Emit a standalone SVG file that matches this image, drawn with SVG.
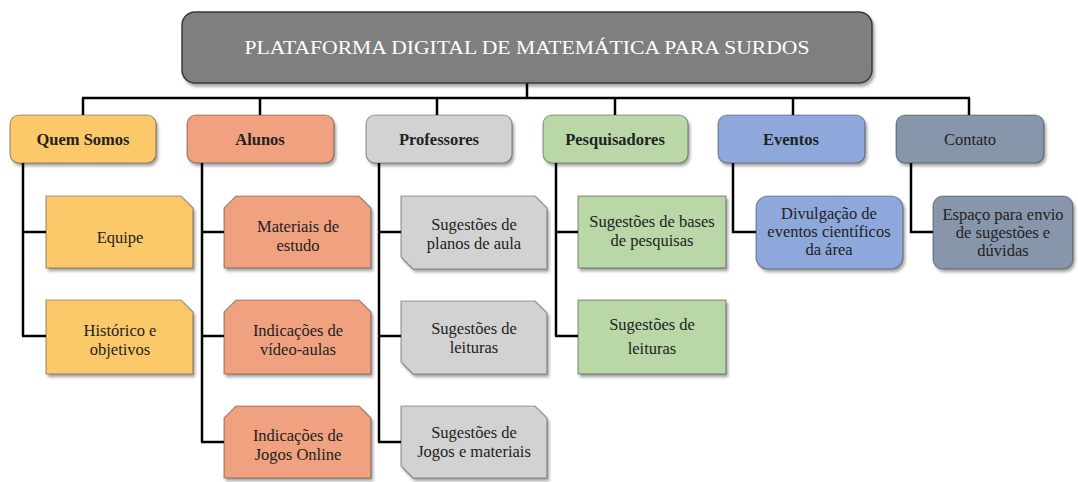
<svg xmlns="http://www.w3.org/2000/svg" width="1078" height="482" viewBox="0 0 1078 482">
<defs>
<filter id="sh" x="-10%" y="-10%" width="130%" height="140%">
<feDropShadow dx="2" dy="3" stdDeviation="1.8" flood-color="#000" flood-opacity="0.35"/>
</filter>
</defs>
<style>
.n{stroke:rgba(0,0,0,0.35);stroke-width:1.2;filter:url(#sh)}
.t{font-family:'Liberation Serif','DejaVu Serif',serif;font-size:16.5px;fill:#222;text-anchor:middle}
.b{font-weight:bold}
.m{font-family:'Liberation Serif','DejaVu Serif',serif;font-size:19px;fill:#fff;text-anchor:middle}
.c{fill:none;stroke:#000;stroke-width:2.5}
.y{fill:#fcc96b}.o{fill:#f0a17f}.g{fill:#d2d2d2}.gr{fill:#b9d7a7}.bl{fill:#8ea8db}.s{fill:#8796aa}
</style>
<g id="connectors">
<path class="c" d="M527,83 V98 M82,98 H970 M83,98 V115 M260,98 V115 M437,98 V115 M615,98 V115 M793,98 V115 M969,98 V115"/>
<path class="c" d="M23,163 V336 M22,232 H46 M22,336 H46"/>
<path class="c" d="M202,163 V442 M201,232 H224 M201,336 H224 M201,442 H224"/>
<path class="c" d="M379,163 V442 M378,232 H401 M378,336 H401 M378,442 H401"/>
<path class="c" d="M556,163 V336 M555,232 H578 M555,336 H578"/>
<path class="c" d="M733,163 V232 H756"/>
<path class="c" d="M911,163 V232 H933"/>
</g>
<g id="main">
<rect x="182" y="12" width="690" height="71" rx="13" fill="#7f7f7f" stroke="#3a3a3a" stroke-width="1.5" filter="url(#sh)"/>
<text class="m" x="527" y="54" textLength="565" lengthAdjust="spacingAndGlyphs">PLATAFORMA DIGITAL DE MATEMÁTICA PARA SURDOS</text>
</g>
<g id="quem-somos">
<rect class="n y" x="10" y="115" width="146" height="48" rx="9"/>
<text class="t b" x="83" y="145">Quem Somos</text>
</g>
<g id="alunos">
<rect class="n o" x="187" y="115" width="147" height="48" rx="9"/>
<text class="t b" x="260" y="145">Alunos</text>
</g>
<g id="professores">
<rect class="n g" x="366" y="115" width="146" height="48" rx="9"/>
<text class="t b" x="439" y="145">Professores</text>
</g>
<g id="pesquisadores">
<rect class="n gr" x="543" y="115" width="145" height="48" rx="9"/>
<text class="t b" x="615" y="145">Pesquisadores</text>
</g>
<g id="eventos">
<rect class="n bl" x="718" y="115" width="147" height="48" rx="9"/>
<text class="t b" x="791" y="145">Eventos</text>
</g>
<g id="contato">
<rect class="n s" x="896" y="115" width="148" height="48" rx="9"/>
<text class="t" x="970" y="145">Contato</text>
</g>
<g id="equipe">
<path class="n y" d="M46,196 H181 L193,208 V268 H46 Z"/>
<text class="t" x="120" y="243">Equipe</text>
</g>
<g id="historico">
<path class="n y" d="M46,300 H181 L193,312 V374 H46 Z"/>
<text class="t" x="120" y="336">Histórico e</text>
<text class="t" x="120" y="355">objetivos</text>
</g>
<g id="materiais">
<path class="n o" d="M236,196 H359 L371,208 V268 H224 V208 Z"/>
<text class="t" x="298" y="232">Materiais de</text>
<text class="t" x="298" y="251">estudo</text>
</g>
<g id="video-aulas">
<path class="n o" d="M236,300 H359 L371,312 V374 H224 V312 Z"/>
<text class="t" x="298" y="336">Indicações de</text>
<text class="t" x="298" y="355">vídeo-aulas</text>
</g>
<g id="jogos-online">
<path class="n o" d="M236,406 H359 L371,418 V478 H224 V418 Z"/>
<text class="t" x="298" y="441">Indicações de</text>
<text class="t" x="298" y="460">Jogos Online</text>
</g>
<g id="planos">
<path class="n g" d="M401,196 H535 L547,208 V269 H413 L401,257 Z"/>
<text class="t" x="474" y="230">Sugestões de</text>
<text class="t" x="474" y="249">planos de aula</text>
</g>
<g id="leituras-prof">
<path class="n g" d="M401,301 H535 L547,313 V374 H413 L401,362 Z"/>
<text class="t" x="474" y="334">Sugestões de</text>
<text class="t" x="474" y="353">leituras</text>
</g>
<g id="jogos-materiais">
<path class="n g" d="M401,406 H535 L547,418 V478 H413 L401,466 Z"/>
<text class="t" x="474" y="438">Sugestões de</text>
<text class="t" x="474" y="457">Jogos e materiais</text>
</g>
<g id="bases">
<rect class="n gr" x="578" y="196" width="148" height="72"/>
<text class="t" x="652" y="227">Sugestões de bases</text>
<text class="t" x="652" y="246">de pesquisas</text>
</g>
<g id="leituras-pesq">
<rect class="n gr" x="578" y="300" width="148" height="74"/>
<text class="t" x="652" y="330">Sugestões de</text>
<text class="t" x="652" y="354">leituras</text>
</g>
<g id="divulgacao">
<rect class="n bl" x="756" y="196" width="147" height="73" rx="12"/>
<text class="t" x="829" y="219">Divulgação de</text>
<text class="t" x="829" y="237">eventos científicos</text>
<text class="t" x="829" y="255">da área</text>
</g>
<g id="espaco">
<rect class="n s" x="933" y="196" width="140" height="73" rx="10"/>
<text class="t" x="1003" y="220">Espaço para envio</text>
<text class="t" x="1003" y="238">de sugestões e</text>
<text class="t" x="1003" y="256">dúvidas</text>
</g>
</svg>
